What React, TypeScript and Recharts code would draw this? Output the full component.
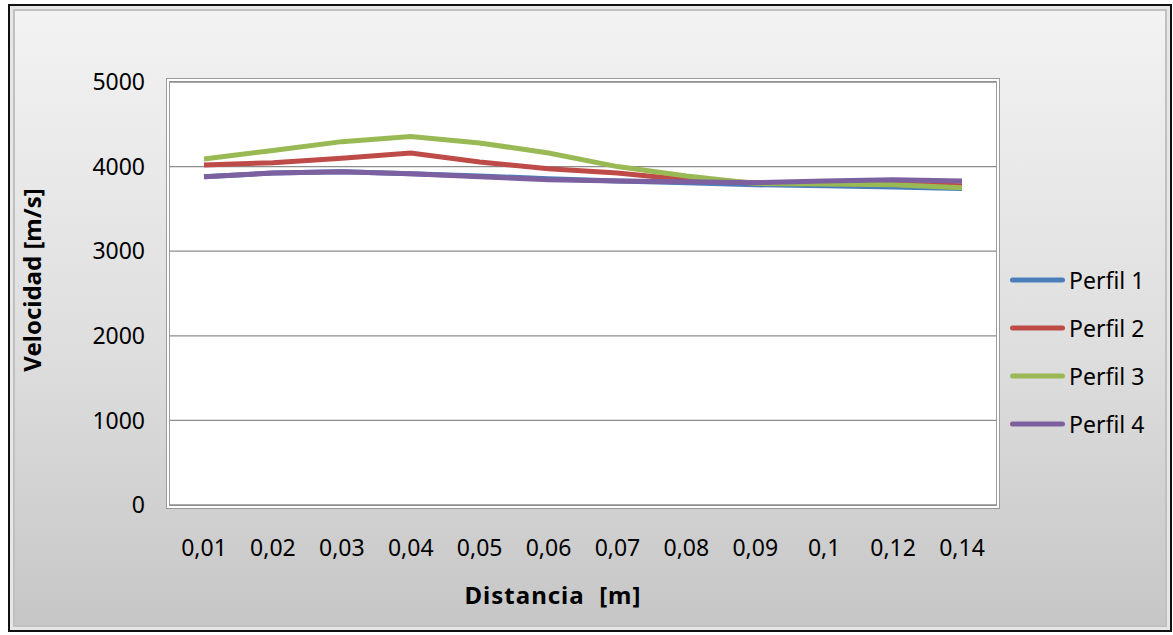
import React from 'react';
import { LineChart, Line, XAxis, YAxis, CartesianGrid } from 'recharts';

const distancias = ['0,01', '0,02', '0,03', '0,04', '0,05', '0,06', '0,07', '0,08', '0,09', '0,1', '0,12', '0,14'];
const perfil1 = [3880, 3925, 3940, 3915, 3890, 3855, 3830, 3810, 3785, 3775, 3760, 3740];
const perfil2 = [4020, 4045, 4100, 4160, 4055, 3975, 3925, 3845, 3810, 3800, 3795, 3775];
const perfil3 = [4090, 4190, 4295, 4355, 4280, 4160, 4000, 3890, 3800, 3795, 3785, 3750];
const perfil4 = [3880, 3925, 3940, 3915, 3880, 3845, 3830, 3820, 3810, 3830, 3845, 3830];
const yTicks = [0, 1000, 2000, 3000, 4000, 5000];

const series = [
  { key: 'p1', name: 'Perfil 1', color: '#4a7ebb' },
  { key: 'p2', name: 'Perfil 2', color: '#be4b48' },
  { key: 'p3', name: 'Perfil 3', color: '#98b954' },
  { key: 'p4', name: 'Perfil 4', color: '#7d60a0' },
];

const data = distancias.map((d, i) => ({
  d,
  p1: perfil1[i],
  p2: perfil2[i],
  p3: perfil3[i],
  p4: perfil4[i],
}));

const font = '"Noto Sans", "Open Sans", sans-serif';

const LegendBox = () => (
  <div
    style={{
      position: 'absolute',
      left: 1000,
      top: 250,
      fontFamily: font,
      fontSize: 23,
      color: '#000',
    }}
  >
    {series.map((s) => (
      <div key={s.key} style={{ display: 'flex', alignItems: 'center', height: 48 }}>
        <svg width={59} height={10}>
          <line x1={2.5} y1={5} x2={52.5} y2={5} stroke={s.color} strokeWidth={5} strokeLinecap="round" />
        </svg>
        <span>{s.name}</span>
      </div>
    ))}
  </div>
);

export default function App() {
  return (
    <div
      style={{
        position: 'absolute',
        left: 8,
        top: 4,
        width: 1160,
        height: 624,
        border: '2px solid #111',
        boxShadow: 'inset 0 0 0 3px #e6e6e6, inset 0 0 0 5px #c0c0c0',
        background: 'linear-gradient(to bottom, #f3f3f3 0%, #dedede 55%, #c6c6c6 100%)',
      }}
    >
      {/* plot area frame */}
      <div
        style={{
          position: 'absolute',
          left: 156,
          top: 72,
          width: 826,
          height: 423,
          border: '4px double #9a9a9a',
          background: '#fff',
        }}
      />
      <div style={{ position: 'absolute', left: 0, top: 0 }}>
        <LineChart
          width={1160}
          height={624}
          data={data}
          margin={{ top: 76, right: 174, bottom: 0, left: 0 }}
          style={{ fontFamily: font }}
        >
          <CartesianGrid vertical={false} stroke="#8c8c8c" strokeWidth={1.3} />
          <XAxis
            dataKey="d"
            height={125}
            padding={{ left: 34, right: 34 }}
            axisLine={false}
            tickLine={false}
            tickSize={0}
            tickMargin={35}
            tick={{ fill: '#000', fontSize: 23 }}
            label={{
              content: () => (
                <text
                  x={543}
                  y={598}
                  textAnchor="middle"
                  fill="#000"
                  fontSize={24}
                  fontWeight="bold"
                  letterSpacing={1}
                  fontFamily={font}
                >
                  {'Distancia\u00a0\u00a0[m]'}
                </text>
              ),
            }}
          />
          <YAxis
            width={160}
            domain={[0, 5000]}
            ticks={yTicks}
            axisLine={false}
            tickLine={false}
            tickSize={0}
            tickMargin={25}
            tick={{ fill: '#000', fontSize: 23 }}
            label={{
              content: () => (
                <text
                  x={21}
                  y={274}
                  transform="rotate(-90, 21, 274)"
                  textAnchor="middle"
                  dominantBaseline="central"
                  fill="#000"
                  fontSize={24}
                  fontWeight="bold"
                  fontFamily={font}
                >
                  Velocidad [m/s]
                </text>
              ),
            }}
          />
          {series.map((s) => (
            <Line
              key={s.key}
              dataKey={s.key}
              name={s.name}
              stroke={s.color}
              strokeWidth={5}
              dot={false}
              type="linear"
              isAnimationActive={false}
            />
          ))}
        </LineChart>
      </div>
      <LegendBox />
    </div>
  );
}
